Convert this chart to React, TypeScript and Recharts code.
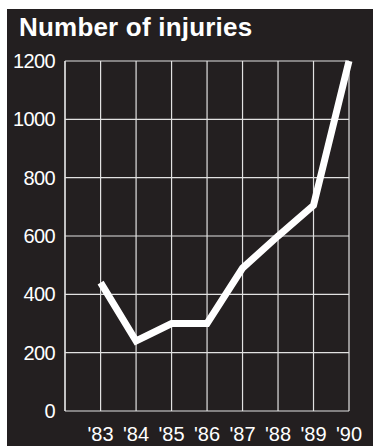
import React from 'react';
import { LineChart, Line, XAxis, YAxis, CartesianGrid } from 'recharts';

const years = ["'83", "'84", "'85", "'86", "'87", "'88", "'89", "'90"];
const injuries = [440, 240, 300, 300, 490, 600, 705, 1200];
const yTicks = [0, 200, 400, 600, 800, 1000, 1200];

const data = years.map((year, i) => ({ year, injuries: injuries[i] }));

const BG = '#231f20';

export default function App() {
  return (
    <div style={{ position: 'absolute', left: 0, top: 0, width: 377, height: 446, background: '#fff', overflow: 'hidden' }}>
      <div style={{ position: 'absolute', left: 7, top: 9, width: 366, height: 437, background: BG }} />
      <div
        style={{
          position: 'absolute',
          left: 19,
          top: 14,
          fontFamily: '"Liberation Sans", Arial, sans-serif',
          fontWeight: 'bold',
          fontSize: 26,
          lineHeight: '26px',
          letterSpacing: 0.2,
          color: '#fff',
          whiteSpace: 'nowrap',
        }}
      >
        Number of injuries
      </div>
      <div style={{ position: 'absolute', left: 0, top: 0 }}>
        <LineChart width={377} height={446} data={data} margin={{ top: 61, right: 28, bottom: 0, left: 0 }}>
          <CartesianGrid stroke="#e2e2e2" strokeWidth={1.2} />
          <XAxis
            dataKey="year"
            padding={{ left: 35.6, right: 0 }}
            axisLine={false}
            tickLine={false}
            tickSize={0}
            tickMargin={16}
            height={35}
            interval={0}
            tick={{ fill: '#fff', fontSize: 20, fontFamily: '"Liberation Sans Narrow", "Liberation Sans", Arial, sans-serif' }}
          />
          <YAxis
            domain={[0, 1200]}
            ticks={yTicks}
            width={65}
            axisLine={{ stroke: '#e2e2e2', strokeWidth: 1.2 }}
            tickLine={false}
            tickSize={0}
            tickMargin={10}
            interval={0}
            tick={{ fill: '#fff', fontSize: 20, letterSpacing: -0.6, fontFamily: '"Liberation Sans", Arial, sans-serif' }}
          />
          <Line
            type="linear"
            dataKey="injuries"
            stroke="#fff"
            strokeWidth={7}
            strokeLinejoin="miter"
            strokeLinecap="butt"
            dot={false}
            activeDot={false}
            isAnimationActive={false}
          />
        </LineChart>
      </div>
    </div>
  );
}
